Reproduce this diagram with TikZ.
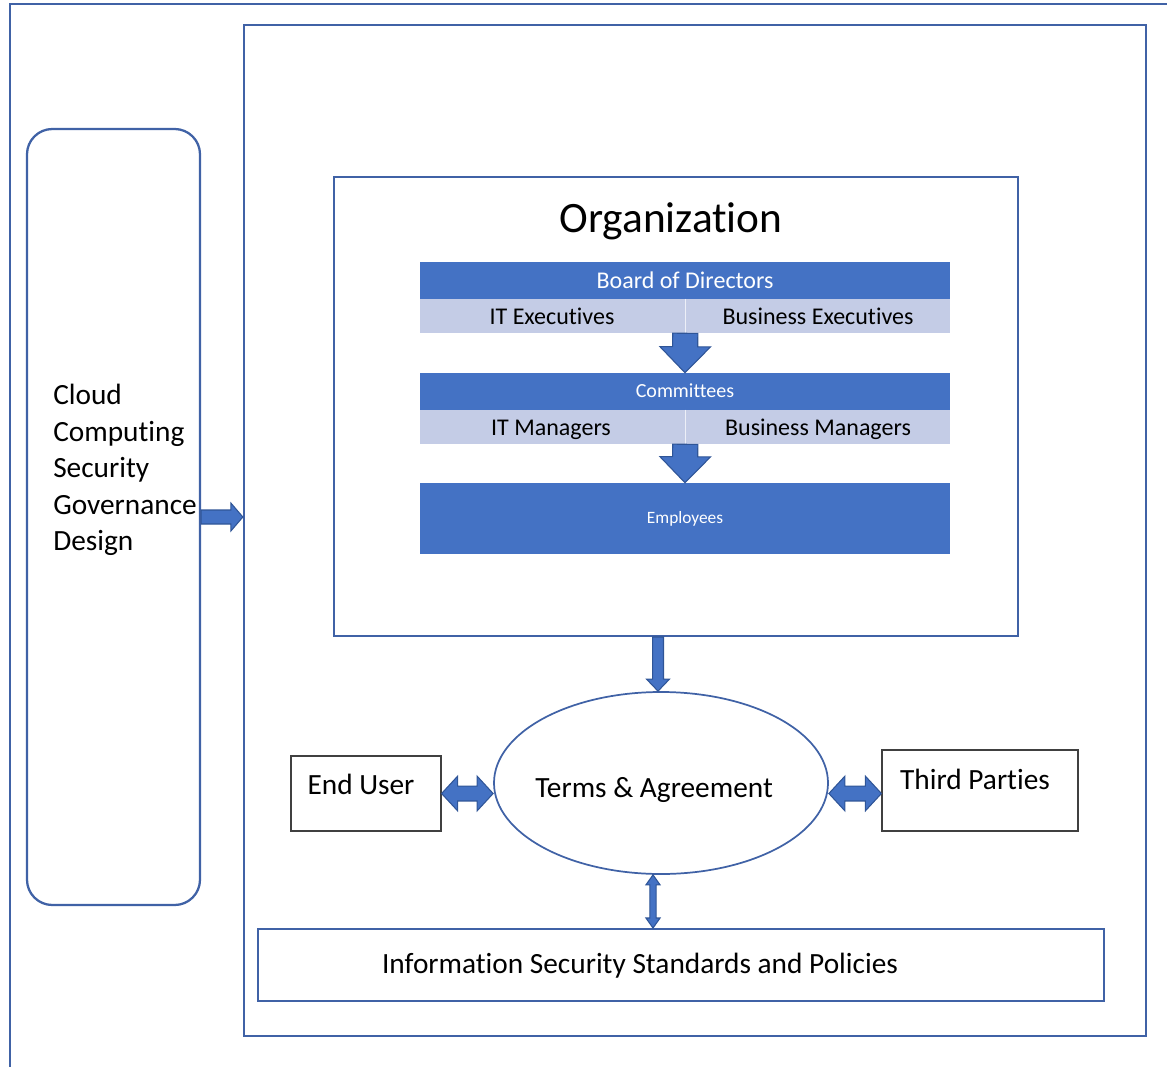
\documentclass[tikz,border=0pt]{standalone}
\usepackage{fontspec}
\setmainfont{Carlito}[Ligatures={NoCommon,NoContextual}]
\usetikzlibrary{calc,shapes.geometric}

\definecolor{frameblue}{RGB}{64,98,166}
\definecolor{barblue}{RGB}{68,114,196}
\definecolor{arrowedge}{RGB}{47,85,151}
\definecolor{cellblue}{RGB}{196,204,230}
\definecolor{boxgray}{RGB}{64,64,64}

\newcommand\setfs[2]{\fontsize{#1}{#2}\selectfont}

% block arrow: from, to, shaft half width, head half width, head length
\newcommand\blockarrow[5]{%
  \coordinate (ba-a) at (#1);
  \coordinate (ba-b) at (#2);
  \coordinate (ba-h) at ($(ba-b)!#5!(ba-a)$);
  \filldraw[blockarrowstyle]
    ($(ba-a)!#3!90:(ba-b)$) -- ($(ba-h)!#3!90:(ba-b)$) -- ($(ba-h)!#4!90:(ba-b)$)
    -- (ba-b)
    -- ($(ba-h)!#4!-90:(ba-b)$) -- ($(ba-h)!#3!-90:(ba-b)$) -- ($(ba-a)!#3!-90:(ba-b)$) -- cycle;
}
% double-headed block arrow: same arguments
\newcommand\dblblockarrow[5]{%
  \coordinate (da-a) at (#1);
  \coordinate (da-b) at (#2);
  \coordinate (da-h1) at ($(da-a)!#5!(da-b)$);
  \coordinate (da-h2) at ($(da-b)!#5!(da-a)$);
  \filldraw[blockarrowstyle]
    (da-a) -- ($(da-h1)!#4!90:(da-b)$) -- ($(da-h1)!#3!90:(da-b)$)
    -- ($(da-h2)!#3!90:(da-b)$) -- ($(da-h2)!#4!90:(da-b)$)
    -- (da-b)
    -- ($(da-h2)!#4!-90:(da-b)$) -- ($(da-h2)!#3!-90:(da-b)$)
    -- ($(da-h1)!#3!-90:(da-b)$) -- ($(da-h1)!#4!-90:(da-b)$) -- cycle;
}

\tikzset{
  frameline/.style={draw=frameblue, line width=1.7pt},
  panel/.style={frameline, rectangle, inner sep=0pt},
  bar/.style={rectangle, fill=barblue, inner sep=0pt, minimum width=397.5pt},
  cell/.style={rectangle, fill=cellblue, inner sep=0pt, minimum width=198.75pt, minimum height=25.5pt},
  whitetext/.style={text=white, inner sep=0pt, anchor=base},
  darktext/.style={text=black, inner sep=0pt, anchor=base},
  plainbox/.style={draw=boxgray, line width=0.9pt, rectangle, inner sep=0pt, fill=white},
  blockarrowstyle/.style={fill=barblue, draw=arrowedge, line width=0.8pt, line join=miter},
}

\begin{document}
\begin{tikzpicture}[x=0.75pt, y=-0.75pt]
\useasboundingbox (0,0) rectangle (1167,1067);

% outer frame, running off the top right and bottom left
\draw[frameline] (1167,4) -- (10,4) -- (10,1067);

% main frame
\node[panel, minimum width=676.5pt, minimum height=758.25pt] (frame) at (695,530.5) {};

% governance design column
\node[panel, rounded corners=19pt, minimum width=129.75pt, minimum height=582pt] (gov) at (113.5,517) {};
\node[anchor=north west, align=left, inner sep=0pt, font=\setfs{22}{27.4}] (govtext) at (53,384)
  {Cloud\\Computing\\Security\\Governance\\Design};

\blockarrow{gov.east}{frame.west |- gov.east}{5.25pt}{10.5pt}{9pt}

% organization panel
\node[panel, line width=1.5pt, minimum width=513pt, minimum height=344.25pt] (org) at (676,406.5) {};
\node[darktext, font=\setfs{32.5}{39}] (orgtitle) at (671,232) {Organization};

% hierarchy bars
\node[bar, minimum height=27.75pt] (bod) at (685,280.5) {};
\node[whitetext, font=\setfs{18}{21}] (bodtext) at (685,288) {Board of Directors};
\node[cell] (itexec) at (552.5,316) {};
\node[cell] (bizexec) at (817.5,316) {};
\node[darktext, font=\setfs{18}{21}] at (552,324) {IT Executives};
\node[darktext, font=\setfs{18}{21}] at (818,324) {Business Executives};
\draw[white, line width=0.6pt, opacity=0.7] (itexec.north east) -- (itexec.south east);

\node[bar, minimum height=27.75pt] (comm) at (685,391.5) {};
\node[whitetext, font=\setfs{15}{18}] (commtext) at (685,397.5) {Committees};
\node[cell] (itmgr) at (552.5,427) {};
\node[cell] (bizmgr) at (817.5,427) {};
\node[darktext, font=\setfs{18}{21}] at (551,435) {IT Managers};
\node[darktext, font=\setfs{18}{21}] at (818,435) {Business Managers};
\draw[white, line width=0.6pt, opacity=0.7] (itmgr.north east) -- (itmgr.south east);

\node[bar, minimum height=53.25pt] (emp) at (685,518.5) {};
\node[whitetext, font=\setfs{13}{16}] (emptext) at (685,523.5) {Employees};

\blockarrow{itexec.south east}{comm.north}{9.4pt}{19pt}{19.5pt}
\blockarrow{itmgr.south east}{emp.north}{9.4pt}{19pt}{19.5pt}

% terms and the parties around them
\node[ellipse, draw=frameblue, line width=1.3pt, inner sep=0pt, minimum width=250.5pt, minimum height=136.5pt] (terms) at (661,783) {};
\node[darktext, font=\setfs{22}{26}] (termstext) at (654,797) {Terms \& Agreement};

\node[plainbox, minimum width=112.5pt, minimum height=56.25pt] (enduser) at (366,793.5) {};
\node[darktext, font=\setfs{22}{26}] at (361,794) {End User};

\node[plainbox, minimum width=147pt, minimum height=60.75pt] (third) at (980,790.5) {};
\node[darktext, font=\setfs{22}{26}] at (975,789) {Third Parties};

\node[panel, line width=1.5pt, minimum width=634.5pt, minimum height=54pt] (infosec) at (681,965) {};
\node[darktext, font=\setfs{22}{26}] (infotext) at (640,973) {Information Security Standards and Policies};

% connectors around the terms
\coordinate (orgout) at ($(terms.north |- org.south)+(-3,0)$);
\coordinate (termsin) at ($(terms.north)+(-3,0)$);
\blockarrow{orgout}{termsin}{4.1pt}{8.6pt}{9pt}

\coordinate (termsl) at (terms.west |- enduser.east);
\dblblockarrow{enduser.east}{termsl}{5.6pt}{13pt}{12pt}

\coordinate (termsr) at (terms.east |- enduser.east);
\dblblockarrow{termsr}{third.west |- termsr}{5.6pt}{13pt}{12pt}

\coordinate (termsout) at ($(terms.south)+(-8,0)$);
\coordinate (infoin) at (termsout |- infosec.north);
\dblblockarrow{termsout}{infoin}{2.3pt}{5.3pt}{7.5pt}
\end{tikzpicture}
\end{document}
